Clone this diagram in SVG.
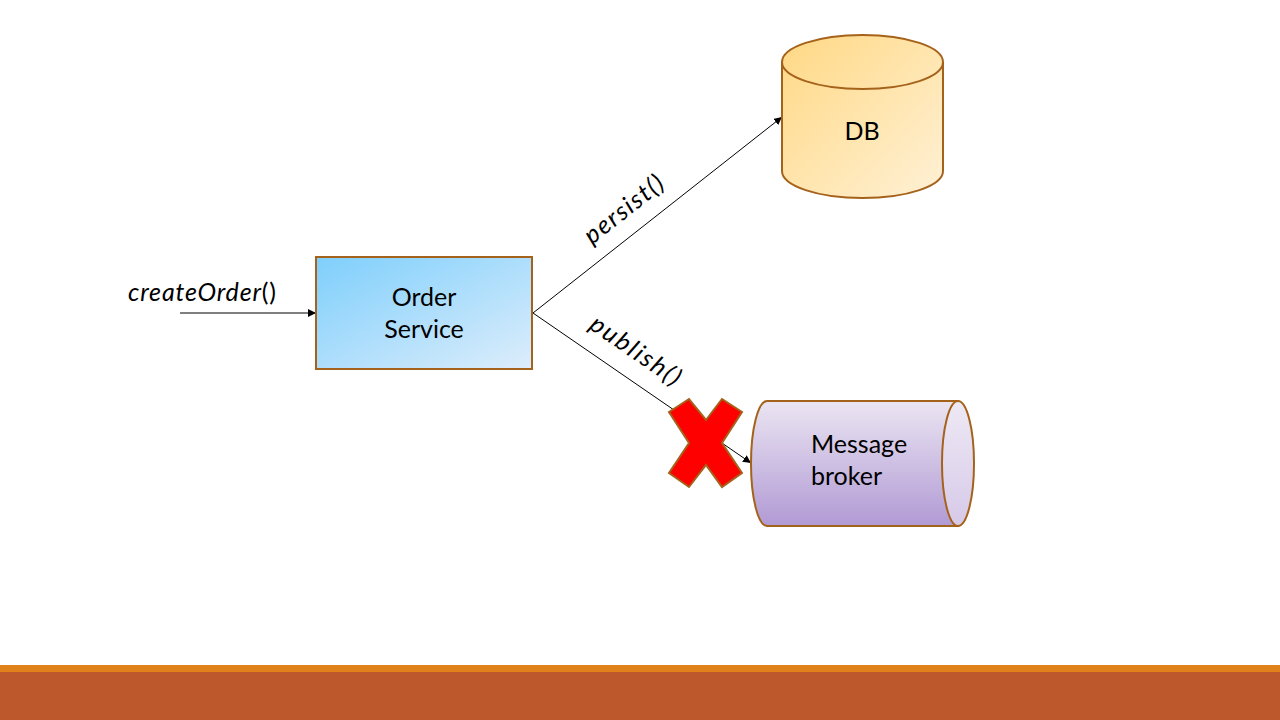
<svg xmlns="http://www.w3.org/2000/svg" width="1280" height="720" viewBox="0 0 1280 720">
<defs>
<linearGradient id="gBlue" x1="0" y1="0" x2="1" y2="1"><stop offset="0" stop-color="#7ECFFC"/><stop offset="1" stop-color="#DDEDFB"/></linearGradient>
<linearGradient id="gDb" x1="0" y1="0" x2="1" y2="1"><stop offset="0" stop-color="#FFD884"/><stop offset="1" stop-color="#FFF1D6"/></linearGradient>
<linearGradient id="gMb" x1="0" y1="0" x2="0" y2="1"><stop offset="0" stop-color="#EBE5F2"/><stop offset="1" stop-color="#B19AD4"/></linearGradient>
<linearGradient id="gMbFace" x1="0" y1="0" x2="0" y2="1"><stop offset="0" stop-color="#EEE9F5"/><stop offset="1" stop-color="#D6C9E8"/></linearGradient>
<marker id="arr" viewBox="0 0 10 10" refX="10" refY="5" markerWidth="8" markerHeight="8" markerUnits="userSpaceOnUse" orient="auto"><path d="M0,0 L10,5 L0,10 z" fill="#000"/></marker>
</defs>
<style>
.shape{stroke:#A5621B;stroke-width:2}
.lbl{font-family:Lato,"Open Sans","Liberation Sans",sans-serif;font-size:25px;fill:#000}
.conn{stroke:#000;stroke-width:1;fill:none;marker-end:url(#arr)}
</style>
<rect width="1280" height="720" fill="#fff"/>
<g id="footer">
<rect x="0" y="665" width="1280" height="7" fill="#E0811A"/>
<rect x="0" y="672" width="1280" height="48" fill="#BD582C"/>
</g>
<g id="connectors">
<line class="conn" x1="180" y1="313" x2="316" y2="313"/>
<line class="conn" x1="533" y1="313" x2="782" y2="117"/>
<line class="conn" x1="533" y1="313" x2="751" y2="463"/>
</g>
<g id="order-service">
<rect class="shape" x="316" y="257" width="216" height="112" fill="url(#gBlue)"/>
<text class="lbl" x="424" y="306" text-anchor="middle">Order</text>
<text class="lbl" x="424" y="338" text-anchor="middle">Service</text>
</g>
<g id="db">
<path class="shape" d="M782,62 L782,171 A80.5,27 0 0 0 943,171 L943,62 A80.5,27 0 0 0 782,62 Z" fill="url(#gDb)"/>
<path class="shape" d="M782,62 A80.5,27 0 0 0 943,62" fill="none"/>
<text class="lbl" x="862" y="140" text-anchor="middle">DB</text>
</g>
<g id="message-broker">
<path class="shape" d="M767,401 L958,401 L958,526 L767,526 A16,62.5 0 0 1 767,401 Z" fill="url(#gMb)"/>
<ellipse class="shape" cx="958" cy="463.5" rx="16" ry="62.5" fill="url(#gMbFace)"/>
<text class="lbl" x="811" y="453">Message</text>
<text class="lbl" x="811" y="485">broker</text>
</g>
<g id="labels">
<text class="lbl" x="128" y="301" textLength="148" lengthAdjust="spacing"><tspan font-style="italic">createOrder</tspan>()</text>
<text class="lbl" font-style="italic" transform="translate(592,245) rotate(-38.2)" textLength="94" lengthAdjust="spacing">persist()</text>
<text class="lbl" font-style="italic" transform="translate(588,328) rotate(34.5)" textLength="104" lengthAdjust="spacing">publish()</text>
</g>
<g id="red-x">
<polygon points="669,412 689,399 706,420 722,399 742,412 722,443 742,473 722,487 706,465 689,487 669,473 689,443" fill="#FF0000" stroke="#A5621B" stroke-width="2" stroke-linejoin="miter"/>
</g>
</svg>
